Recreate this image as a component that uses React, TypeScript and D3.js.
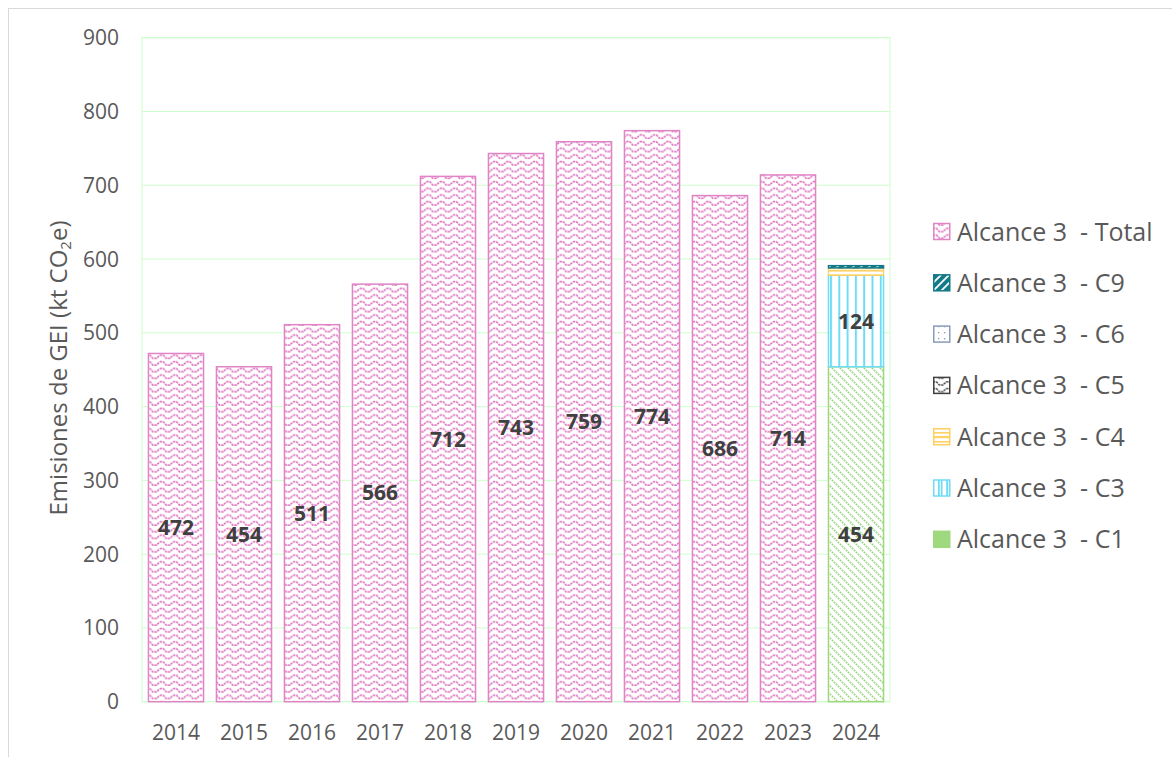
import React from 'react';
import * as d3 from 'd3';

const years = ['2014', '2015', '2016', '2017', '2018', '2019', '2020', '2021', '2022', '2023', '2024'];
const totalValues = [472, 454, 511, 566, 712, 743, 759, 774, 686, 714, 0];
const c1Values = [0, 0, 0, 0, 0, 0, 0, 0, 0, 0, 454];
const c3Values = [0, 0, 0, 0, 0, 0, 0, 0, 0, 0, 124];
const c4Values = [0, 0, 0, 0, 0, 0, 0, 0, 0, 0, 9];
const c5Values = [0, 0, 0, 0, 0, 0, 0, 0, 0, 0, 0.5];
const c6Values = [0, 0, 0, 0, 0, 0, 0, 0, 0, 0, 0.5];
const c9Values = [0, 0, 0, 0, 0, 0, 0, 0, 0, 0, 3];
const yTicks = [0, 100, 200, 300, 400, 500, 600, 700, 800, 900];

const stackKeys = ['c1', 'c3', 'c4', 'c5', 'c6', 'c9', 'total'];
const labelledKeys = ['c1', 'c3', 'total'];
const legendKeys = ['total', 'c9', 'c6', 'c5', 'c4', 'c3', 'c1'];
const seriesNames: Record<string, string> = {
  total: 'Alcance 3  - Total',
  c9: 'Alcance 3  - C9',
  c6: 'Alcance 3  - C6',
  c5: 'Alcance 3  - C5',
  c4: 'Alcance 3  - C4',
  c3: 'Alcance 3  - C3',
  c1: 'Alcance 3  - C1',
};
const strokeColors: Record<string, string> = {
  total: '#e184c6',
  c9: '#137a88',
  c6: '#8a9cb8',
  c5: '#404040',
  c4: '#ffd060',
  c3: '#6fdcf6',
  c1: '#9ed87f',
};

const FONT = "'Open Sans', sans-serif";

export default function App() {
  const W = 1172;
  const H = 757;
  const plotL = 142, plotR = 890, plotT = 37.7, plotB = 701.7;

  const x = d3.scaleBand<string>().domain(years).range([plotL, plotR]).paddingInner(0.19).paddingOuter(0.095);
  const y = d3.scaleLinear().domain([0, 900]).range([plotB, plotT]);

  const table = years.map((yr, i) => ({
    year: yr,
    total: totalValues[i],
    c1: c1Values[i],
    c3: c3Values[i],
    c4: c4Values[i],
    c5: c5Values[i],
    c6: c6Values[i],
    c9: c9Values[i],
  }));
  const stacked = d3.stack<any>().keys(stackKeys)(table);

  const legendX = 933;
  const legendY0 = 231.5;
  const legendStep = 51.3;

  const wave = 'M0,1.6 L3.3,1.6 L6.2,4.8 L9.9,4.8 L13.33,1.6';

  return (
    <svg width={W} height={H} style={{ position: 'absolute', left: 0, top: 0, background: '#fff' }}>
      <defs>
        <pattern id="pat-total" patternUnits="userSpaceOnUse" width={13.33} height={6.67}>
          <rect width={13.33} height={6.67} fill="#fff" />
          <path d={wave} fill="none" stroke="#de72bf" strokeWidth={1.6} strokeDasharray="2.2 0.9" />
        </pattern>
        <pattern id="pat-c5" patternUnits="userSpaceOnUse" width={13.33} height={6.67}>
          <rect width={13.33} height={6.67} fill="#fff" />
          <path d={wave} fill="none" stroke="#404040" strokeWidth={1.5} strokeDasharray="2.2 0.9" />
        </pattern>
        <pattern id="pat-c1" patternUnits="userSpaceOnUse" width={8} height={8}>
          <rect width={8} height={8} fill="#fff" />
          <path d="M0,0 L8,8 M-2,6 L2,10 M6,-2 L10,2" fill="none" stroke="#9ed87f" strokeWidth={1.8} strokeDasharray="1.7 1.1" />
        </pattern>
        <pattern id="pat-c3" patternUnits="userSpaceOnUse" width={8.3} height={8}>
          <rect width={8.3} height={8} fill="#fff" />
          <rect x={0} width={2} height={8} fill="#6fdcf6" />
        </pattern>
        <pattern id="pat-c4" patternUnits="userSpaceOnUse" width={8} height={4.5}>
          <rect width={8} height={4.5} fill="#fff" />
          <rect y={0} width={8} height={1.5} fill="#ffd060" />
        </pattern>
        <pattern id="pat-c6" patternUnits="userSpaceOnUse" width={6} height={6}>
          <rect width={6} height={6} fill="#fff" />
          <rect x={2} y={2} width={1.3} height={1.3} fill="#8a9cb8" />
        </pattern>
        <pattern id="pat-c9" patternUnits="userSpaceOnUse" width={8} height={8}>
          <rect width={8} height={8} fill="#137a88" />
          <path d="M-1,9 L9,-1 M-3,3 L3,-3 M5,11 L11,5" fill="none" stroke="#fff" strokeWidth={1.8} />
        </pattern>
      </defs>

      {/* outer chart border */}
      <line x1={8.5} y1={8} x2={8.5} y2={H} stroke="#d9d9d9" strokeWidth={1} />
      <line x1={8} y1={8.5} x2={W} y2={8.5} stroke="#d9d9d9" strokeWidth={1} />

      {/* gridlines */}
      {yTicks.map((t) => (
        <line key={'g' + t} x1={plotL} x2={plotR} y1={y(t)} y2={y(t)} stroke="#ccffcc" strokeWidth={1} />
      ))}
      <rect x={plotL} y={plotT} width={plotR - plotL} height={plotB - plotT} fill="none" stroke="#ccffcc" strokeWidth={1} />

      {/* bars */}
      {stacked.map((s) => (
        <g key={s.key}>
          {s.map((d, i) => {
            const h = y(d[0]) - y(d[1]);
            if (h <= 0) return null;
            const bx = x(years[i]) as number;
            const bw = x.bandwidth();
            const thin = h < 2;
            return (
              <rect
                key={i}
                x={bx}
                y={y(d[1])}
                width={bw}
                height={h}
                fill={`url(#pat-${s.key})`}
                stroke={thin ? 'none' : strokeColors[s.key]}
                strokeWidth={s.key === 'c4' ? 1.3 : 1.5}
              />
            );
          })}
        </g>
      ))}

      {/* data labels */}
      {stacked
        .filter((s) => labelledKeys.includes(s.key))
        .map((s) =>
          s.map((d, i) => {
            const v = d[1] - d[0];
            if (v <= 0) return null;
            const cx = (x(years[i]) as number) + x.bandwidth() / 2;
            const cy = y((d[0] + d[1]) / 2);
            return (
              <text
                key={s.key + i}
                x={cx}
                y={cy + 7.5}
                textAnchor="middle"
                fontFamily={FONT}
                fontWeight={700}
                fontSize={21}
                fill="#404040"
              >
                {d3.format('d')(v)}
              </text>
            );
          })
        )}

      {/* y tick labels */}
      {yTicks.map((t) => (
        <text key={'yt' + t} x={119} y={y(t) + 7.5} textAnchor="end" fontFamily={FONT} fontSize={21} fill="#595959">
          {t}
        </text>
      ))}

      {/* x tick labels */}
      {years.map((yr) => (
        <text
          key={'xt' + yr}
          x={(x(yr) as number) + x.bandwidth() / 2}
          y={740}
          textAnchor="middle"
          fontFamily={FONT}
          fontSize={21}
          fill="#595959"
        >
          {yr}
        </text>
      ))}

      {/* y axis title */}
      <text
        transform={`translate(67, 368) rotate(-90)`}
        textAnchor="middle"
        fontFamily={FONT}
        fontSize={24}
        fill="#595959"
      >
        Emisiones de GEI (kt CO
        <tspan fontSize={15} dy={4}>2</tspan>
        <tspan dy={-4}>e)</tspan>
      </text>

      {/* legend */}
      {legendKeys.map((k, i) => {
        const cy = legendY0 + i * legendStep;
        return (
          <g key={'lg' + k}>
            <rect
              x={legendX + 0.75}
              y={cy - 8}
              width={16}
              height={16}
              fill={k === 'c1' ? '#9ed87f' : `url(#pat-${k})`}
              stroke={strokeColors[k]}
              strokeWidth={1.5}
            />
            {k === 'c4' && <line x1={legendX + 0.75} x2={legendX + 16.75} y1={cy} y2={cy} stroke={strokeColors[k]} strokeWidth={1.5} />}
            {k === 'c3' && <line x1={legendX + 8.75} x2={legendX + 8.75} y1={cy - 8} y2={cy + 8} stroke={strokeColors[k]} strokeWidth={1.5} />}
            <text x={957} y={cy + 9} fontFamily={FONT} fontSize={25} fill="#595959" style={{ whiteSpace: 'pre' }}>
              {seriesNames[k]}
            </text>
          </g>
        );
      })}
    </svg>
  );
}
